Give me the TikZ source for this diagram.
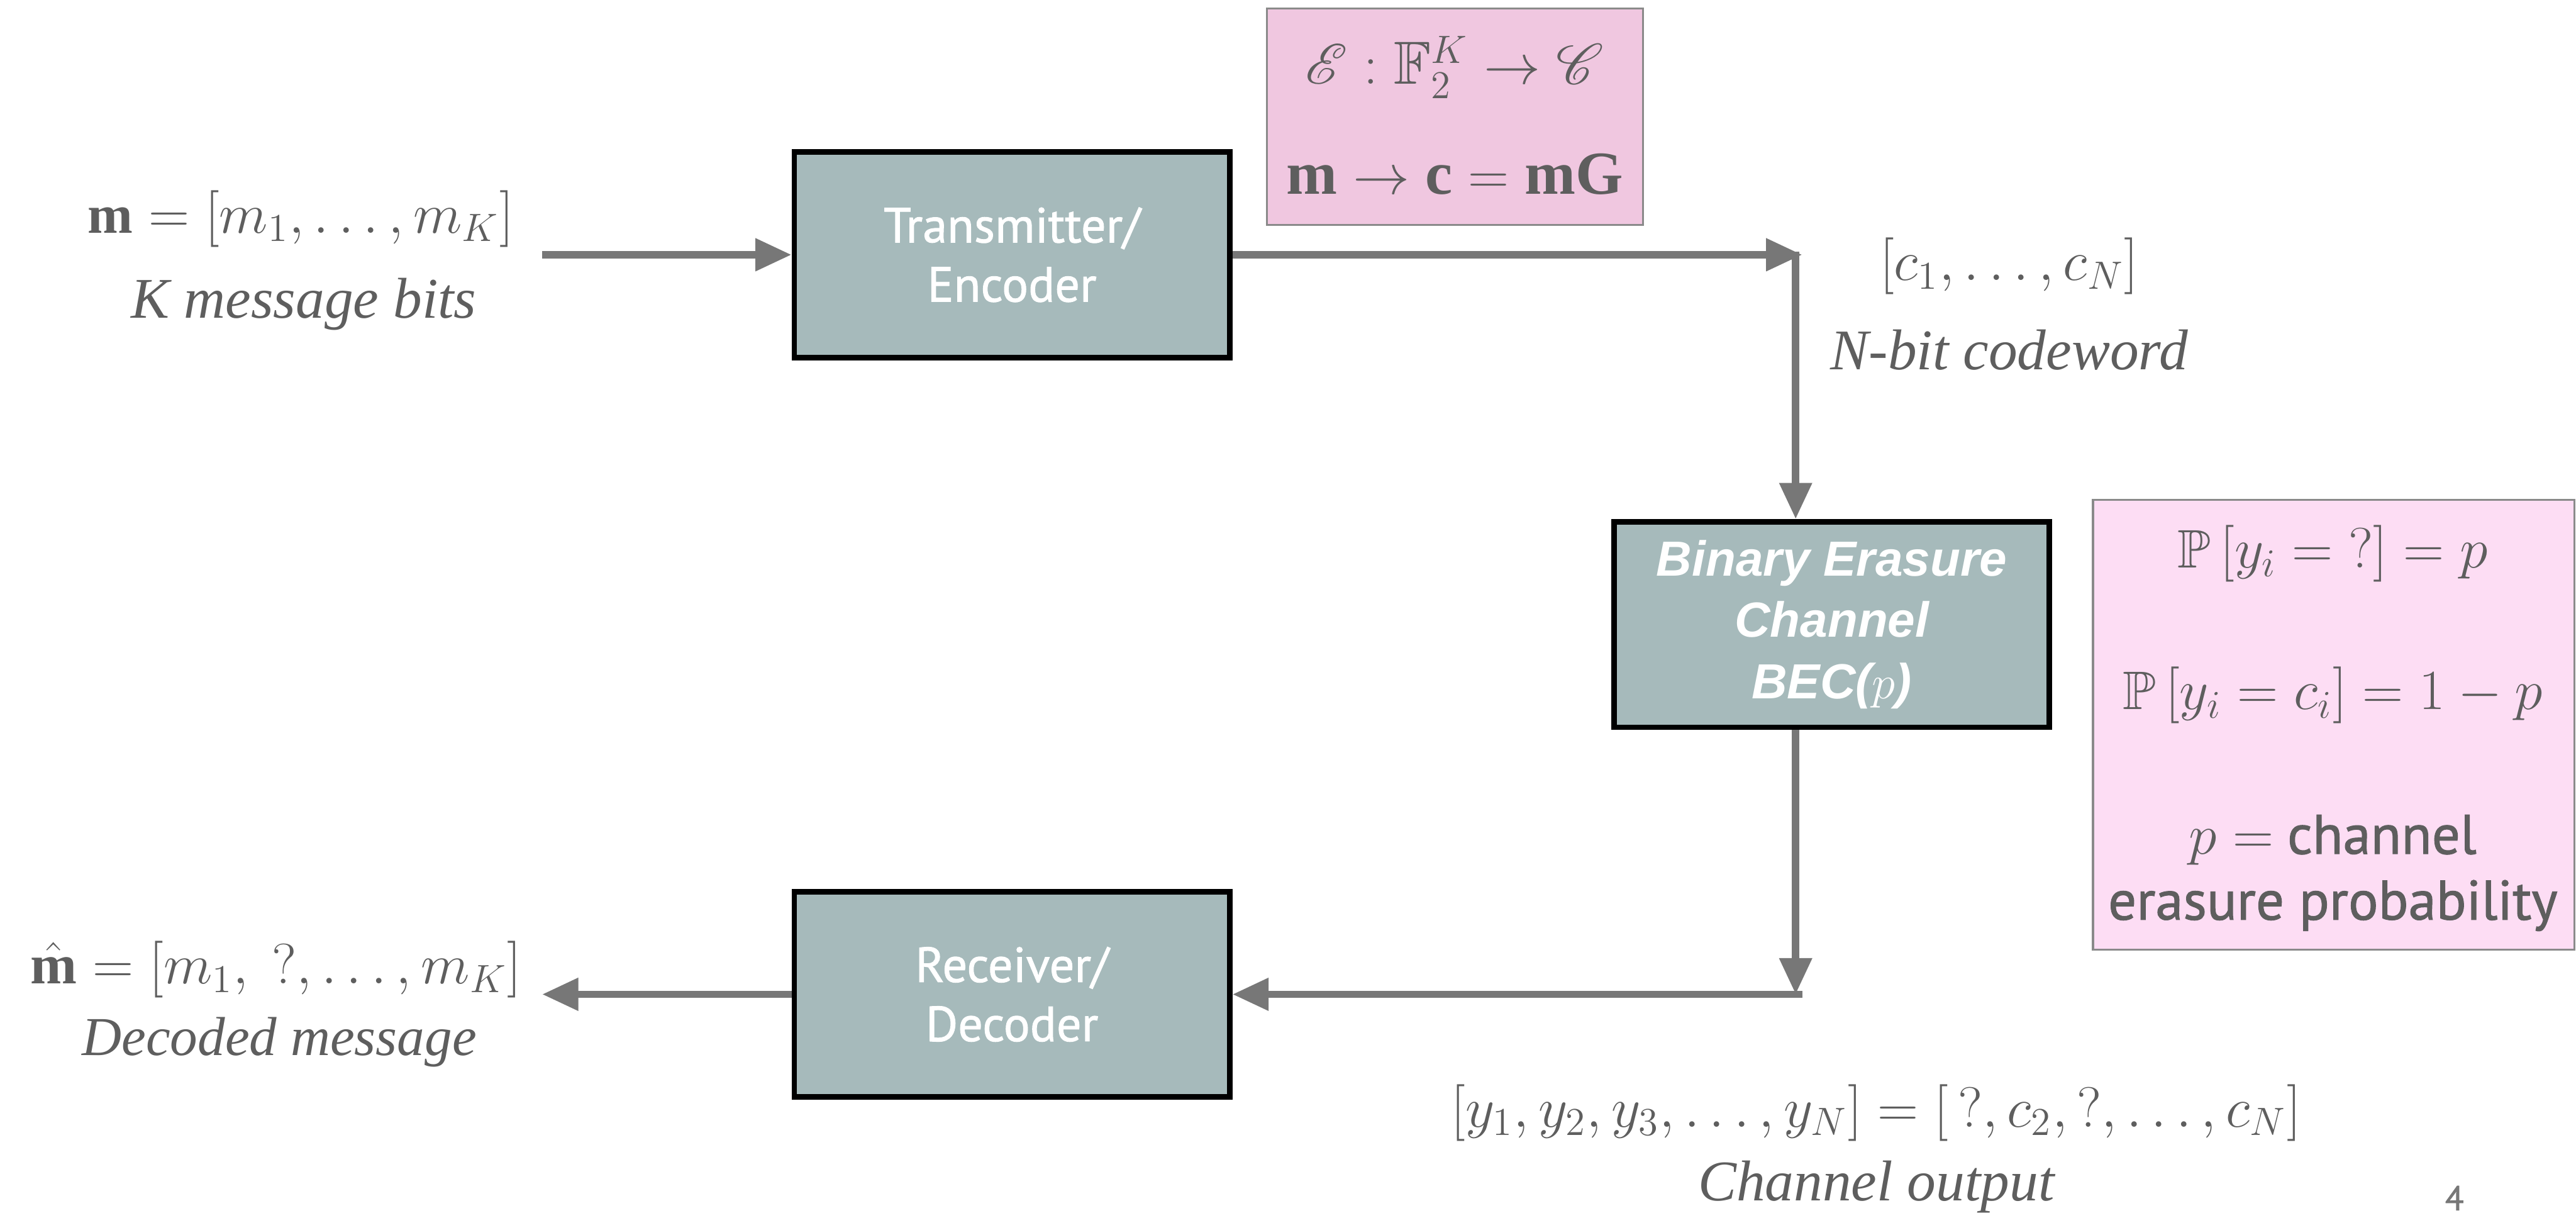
\documentclass[tikz,border=0pt]{standalone}
\usepackage{fontspec}
\usepackage{amssymb}
\usepackage{mathrsfs}
\setmainfont{Liberation Serif}
\newfontfamily\dinfont[FakeBold=1.2]{PT Sans}
\newfontfamily\helv{Liberation Sans}
\usetikzlibrary{arrows.meta}
\definecolor{boxfill}{HTML}{A6BABB}
\definecolor{pinkA}{HTML}{F0C7E0}
\definecolor{pinkB}{HTML}{FDDDF4}
\definecolor{txt}{HTML}{5E5E5E}
\definecolor{arrowgray}{HTML}{777777}
\definecolor{pinkborder}{HTML}{8A8A8A}
\tikzset{
  blk/.style={draw=black, line width=1.7pt, fill=boxfill, minimum width=132.5pt, minimum height=62.5pt, inner sep=0pt, align=center, text=white},
  blktext/.style={font=\dinfont\fontsize{15}{18}\selectfont},
  arr/.style={draw=arrowgray, line width=2.2pt, -{Triangle[length=11pt,width=9.5pt]}},
  lbl/.style={text=txt, font=\fontsize{17}{21}\selectfont, inner sep=0pt},
  ital/.style={text=txt, font=\itshape\fontsize{17.5}{21}\selectfont, inner sep=0pt},
  pinkbox/.style={draw=pinkborder, line width=0.6pt, inner sep=0pt},
  pk/.style={text=txt, font=\fontsize{16.5}{19}\selectfont, inner sep=0pt}
}
\begin{document}
\begin{tikzpicture}[x=0.5pt,y=-0.5pt]
\useasboundingbox (0,0) rectangle (1568,741);

% boxes
\node[blk, blktext] (tx) at (616,155) {Transmitter/\\Encoder};
\node[blk, font=\helv\bfseries\itshape\fontsize{15}{18.6}\selectfont] (bec) at (1115,380) {Binary Erasure\\Channel\\BEC($p$)};
\node[blk, blktext] (rx) at (616,605) {Receiver/\\Decoder};

% pink boxes
\node[pinkbox, fill=pinkA, minimum width=114.5pt, minimum height=66pt] (enc) at (885.5,71) {};
\node[pk, font=\fontsize{18.5}{21}\selectfont] (encA) at (885.5,41) {$\mathscr{E} : \mathbb{F}_2^K \to \mathscr{C}$};
\node[pk, font=\fontsize{18.6}{22}\selectfont] (encB) at (885.5,106) {$\mathbf{m} \to \mathbf{c} = \mathbf{mG}$};

\node[pinkbox, fill=pinkB, minimum width=146.5pt, minimum height=137pt] (prob) at (1420.5,441) {};
\node[pk] (probA) at (1420,337) {$\mathbb{P}\,\bigl[y_i = {?}\bigr] = p$};
\node[pk] (probB) at (1420,423) {$\mathbb{P}\,\bigl[y_i = c_i\bigr] = 1 - p$};
\node[pk] (probC) at (1420,511) {$p =$ {\dinfont\fontsize{17}{20}\selectfont channel}};
\node[pk, font=\dinfont\fontsize{17}{20}\selectfont] (probD) at (1420,551) {erasure probability};

% labels
\node[lbl, font=\fontsize{16.5}{21}\selectfont] (mIn) at (183,133) {$\mathbf{m} = [m_1, \ldots, m_K]$};
\node[ital] (mInT) at (185,185) {K message bits};
\node[lbl] (cw) at (1223,162) {$[c_1, \ldots, c_N]$};
\node[ital] (cwT) at (1223,213) {N-bit codeword};
\node[lbl] (mOut) at (168,590) {$\hat{\mathbf{m}} = [m_1,\ ?, \ldots, m_K]$};
\node[ital, font=\itshape\fontsize{16.7}{21}\selectfont] (mOutT) at (170,634) {Decoded message};
\node[lbl, font=\fontsize{17.6}{21}\selectfont] (yOut) at (1142,677) {$[y_1, y_2, y_3, \ldots, y_N] = [\,?, c_2, ?, \ldots, c_N]$};
\node[ital] (yOutT) at (1142,722) {Channel output};
\node[text=arrowgray, font=\dinfont\fontsize{10.5}{12}\selectfont, inner sep=0pt] (pg) at (1494,729) {4};

% connectors
\coordinate (inS) at (330,155);
\coordinate (j1) at (1097,155);
\coordinate (j1v) at (1093,153);
\coordinate (j2) at (1093,605);
\coordinate (j2h) at (1097,605);
\coordinate (outE) at (330,605);
\draw[arr] (inS) -- (tx.west);
\draw[arr] (tx.east) -- (j1);
\draw[arr] (j1v) -- (j1v |- bec.north);
\draw[arr] (j2 |- bec.south) -- (j2);
\draw[arr] (j2h) -- (rx.east);
\draw[arr] (rx.west) -- (outE);
\end{tikzpicture}
\end{document}
